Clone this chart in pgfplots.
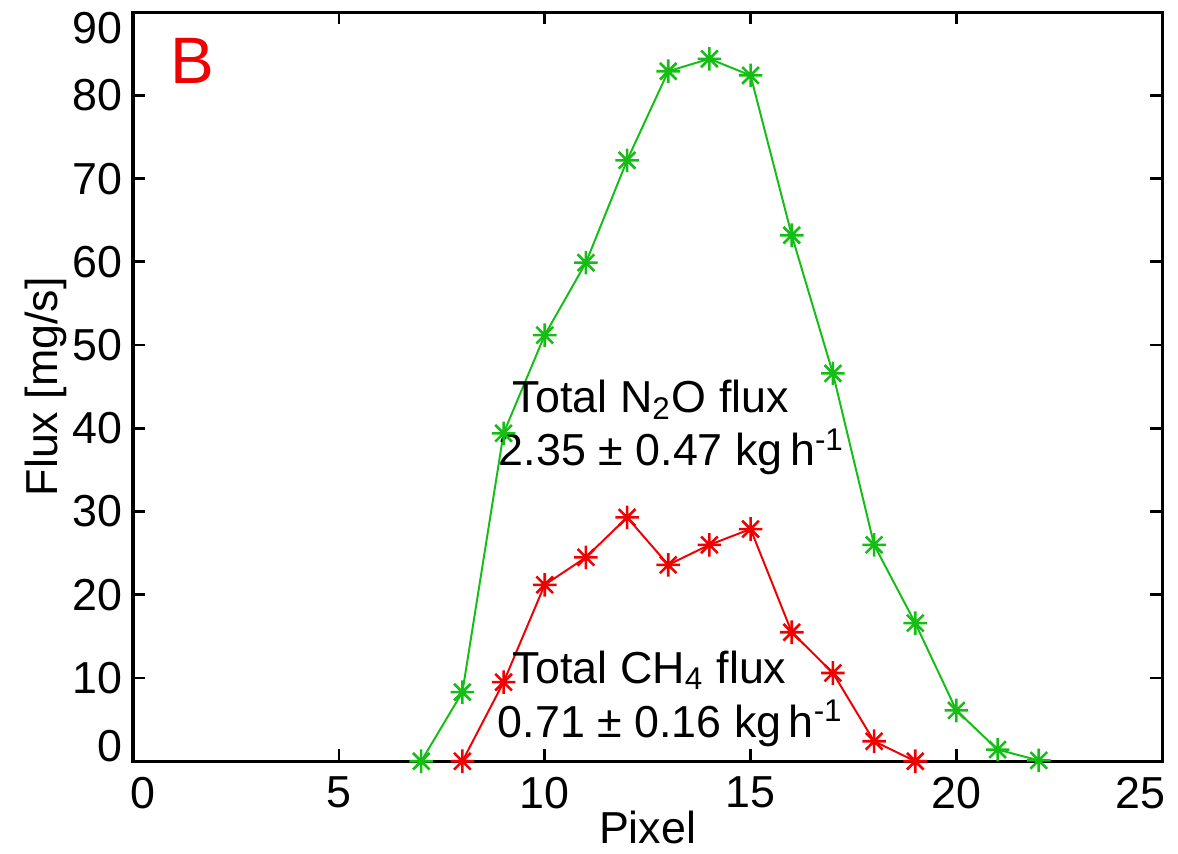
\documentclass[border=0pt]{standalone}
\usepackage{pgfplots}
\pgfplotsset{compat=1.18}
\usepackage{fontspec}
\setmainfont{Liberation Sans}

\definecolor{ngreen}{RGB}{20,190,20}
\definecolor{nred}{RGB}{240,0,0}

% matlab style '*' marker: plus and cross on top of each other
\pgfdeclareplotmark{mstar}{%
  \pgfpathmoveto{\pgfqpoint{-\pgfplotmarksize}{0pt}}%
  \pgfpathlineto{\pgfqpoint{\pgfplotmarksize}{0pt}}%
  \pgfpathmoveto{\pgfqpoint{0pt}{-\pgfplotmarksize}}%
  \pgfpathlineto{\pgfqpoint{0pt}{\pgfplotmarksize}}%
  \pgfpathmoveto{\pgfqpoint{-.7071\pgfplotmarksize}{-.7071\pgfplotmarksize}}%
  \pgfpathlineto{\pgfqpoint{.7071\pgfplotmarksize}{.7071\pgfplotmarksize}}%
  \pgfpathmoveto{\pgfqpoint{-.7071\pgfplotmarksize}{.7071\pgfplotmarksize}}%
  \pgfpathlineto{\pgfqpoint{.7071\pgfplotmarksize}{-.7071\pgfplotmarksize}}%
  \pgfusepathqstroke}

\begin{document}
\begin{tikzpicture}
\useasboundingbox (-33.85pt,-23.4pt) rectangle (265.9pt,193.7pt);

\begin{axis}[%
at={(0,0)},anchor=south west,%
width=261.9pt,height=190.6pt,%
scale only axis,%
xmin=0,xmax=25,ymin=0,ymax=90,%
xtick={0,5,...,25},%
xticklabels={\hspace*{5pt}0,5,10,15,20,25\hspace*{11pt}},%
ytick={0,10,...,80},%
yticklabels={\raisebox{8pt}{0},10,20,30,40,50,60,70,80},%
extra y ticks={90},%
extra y tick style={yticklabel style={yshift=-4pt}},%
tick align=inside,%
major tick length=3pt,%
axis line style={line width=0.8pt},%
every tick/.style={black,line width=0.7pt},%
font=\fontsize{11.4}{13.7}\selectfont,%
/pgf/number format/assume math mode=true,%
xticklabel style={yshift=-0.5pt},%
yticklabel style={inner xsep=2.5pt},%
xlabel={Pixel},ylabel={Flux [mg/s]},%
every axis x label/.style={at={(axis description cs:0.5,0)},anchor=base,yshift=-20.9pt},%
every axis y label/.style={at={(axis description cs:-0.073,0.5)},rotate=90,anchor=base},%
clip=false]

% N2O
\addplot [color=ngreen,line width=0.5pt,mark=mstar,mark size=3pt,mark options={line width=0.65pt}] coordinates{
(7,0) (8,8.3) (9,39.4) (10,51.2) (11,59.9) (12,72.2) (13,82.9) (14,84.4)
(15,82.4) (16,63.2) (17,46.6) (18,26.0) (19,16.6) (20,6.1) (21,1.4) (22,0.1)
};

% CH4
\addplot [color=nred,line width=0.5pt,mark=mstar,mark size=3pt,mark options={line width=0.65pt}] coordinates{
(8,0) (9,9.5) (10,21.2) (11,24.5) (12,29.3) (13,23.6) (14,26.0)
(15,27.9) (16,15.5) (17,10.6) (18,2.4) (19,0)
};

\node[anchor=base west,inner sep=0pt,text=nred,font=\fontsize{16.7}{20}\selectfont]
  at (axis cs:0.9,81.4) {B};

\node[anchor=base west,inner sep=0pt] at (axis cs:9.21,41.95) {Total N\textsubscript{2}O flux};
\node[anchor=base west,inner sep=0pt] at (axis cs:8.87,35.5) {2.35 ± 0.47 kg\,h\textsuperscript{-1}};
\node[anchor=base west,inner sep=0pt] at (axis cs:9.21,9.4) {Total CH\textsubscript{4} flux};
\node[anchor=base west,inner sep=0pt] at (axis cs:8.84,2.9) {0.71 ± 0.16 kg\,h\textsuperscript{-1}};

\end{axis}
\end{tikzpicture}
\end{document}
